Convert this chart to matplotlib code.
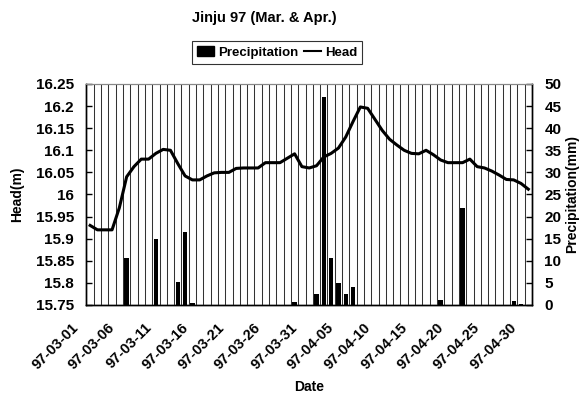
import numpy as np
import matplotlib
matplotlib.use('Agg')
import matplotlib.pyplot as plt
import matplotlib.transforms as mtransforms
from matplotlib.patches import Patch
from matplotlib.lines import Line2D

# daily categories 97-03-01 .. 97-04-30
days = ["97-03-%02d" % d for d in range(1, 32)] + ["97-04-%02d" % d for d in range(1, 31)]
tickLabels = days[::5]

head = [15.93, 15.92, 15.92, 15.92, 15.97, 16.04, 16.063, 16.08, 16.08, 16.093,
        16.102, 16.10, 16.07, 16.042, 16.033, 16.033, 16.042, 16.049, 16.05, 16.05,
        16.059, 16.06, 16.06, 16.06, 16.072, 16.072, 16.072, 16.082, 16.092, 16.063,
        16.06, 16.065, 16.085, 16.093, 16.105, 16.13, 16.165, 16.198, 16.195, 16.17,
        16.145, 16.125, 16.112, 16.10, 16.093, 16.092, 16.10, 16.09, 16.078, 16.072,
        16.072, 16.072, 16.08, 16.063, 16.06, 16.053, 16.044, 16.034, 16.033, 16.025,
        16.012]

precip = [0, 0, 0, 0, 0, 10.7, 0, 0, 0, 15,
          0, 0, 5.3, 16.5, 0.5, 0, 0, 0, 0, 0,
          0, 0, 0, 0, 0, 0, 0, 0, 0.7, 0,
          0, 2.5, 47, 10.7, 5, 2.5, 4, 0, 0, 0,
          0, 0, 0, 0, 0, 0, 0, 0, 1.2, 0,
          0, 22, 0, 0, 0, 0, 0, 0, 0.9, 0.3,
          0]

headTicks = [15.75, 15.8, 15.85, 15.9, 15.95, 16, 16.05, 16.1, 16.15, 16.2, 16.25]
headTickLabels = ["15.75", "15.8", "15.85", "15.9", "15.95", "16", "16.05", "16.1", "16.15", "16.2", "16.25"]
precipTicks = [0, 5, 10, 15, 20, 25, 30, 35, 40, 45, 50]

plt.rcParams['font.family'] = ['Liberation Sans', 'DejaVu Sans']
plt.rcParams['font.weight'] = 'bold'

fig = plt.figure(figsize=(5.82, 4.03), dpi=100)
ax = fig.add_axes([0.1486, 0.2432, 0.914 - 0.1486, 0.7916 - 0.2432])
ax2 = ax.twinx()

x = np.arange(len(days))

ax2.bar(x, precip, width=0.6, color='black', zorder=3)
ax2.set_ylim(0, 50)
ax2.set_yticks(precipTicks)
ax2.tick_params(axis='y', direction='in', length=4, width=1, pad=9, labelsize=11)
ax2.set_ylabel("Precipitation(mm)", fontsize=10, fontweight='bold', labelpad=3)

ax.set_zorder(ax2.get_zorder() + 1)
ax.patch.set_visible(False)
ax.plot(x, head, color='black', lw=2.2, zorder=4)
ax.set_ylim(15.75, 16.25)
ax.set_yticks(headTicks)
ax.set_yticklabels(headTickLabels)
ax.tick_params(axis='y', direction='in', length=4, width=1, pad=9, labelsize=11)
ax.set_ylabel("Head(m)", fontsize=10, fontweight='bold', labelpad=8)

ax.set_xlim(-0.5, len(days) - 0.5)
ax.set_xticks(x[::5])
ax.set_xticklabels(tickLabels, rotation=45, ha='right', fontsize=10.5)
ax.tick_params(axis='x', which='both', length=0, pad=11)
shift = mtransforms.ScaledTranslation(-9 / 100, 0, fig.dpi_scale_trans)
for lbl in ax.get_xticklabels():
    lbl.set_transform(lbl.get_transform() + shift)
ax.set_xlabel("Date", fontsize=10, fontweight='bold', labelpad=6)

# vertical gridlines between the day categories
ax.set_xticks(np.arange(0.5, len(days) - 1, 1), minor=True)
ax.grid(which='minor', axis='x', color='#333333', lw=0.75)

for a in (ax, ax2):
    a.spines['top'].set_color('#888888')
    a.spines['top'].set_linewidth(0.8)
    for s in ('left', 'right', 'bottom'):
        a.spines[s].set_linewidth(1.0)

fig.text(0.454, 0.955, "Jinju 97 (Mar. & Apr.)", ha='center', va='center', fontsize=10.5, fontweight='bold')

handles = [Patch(facecolor='black', edgecolor='black'), Line2D([0], [0], color='black', lw=1.5)]
leg = fig.legend(handles, ["Precipitation", "Head"], loc='center', bbox_to_anchor=(0.476, 0.870),
                 ncol=2, frameon=True, fancybox=False, edgecolor='black', fontsize=9.5,
                 handlelength=1.3, handleheight=0.8, handletextpad=0.3, columnspacing=0.4,
                 borderpad=0.4, borderaxespad=0)
leg.get_frame().set_linewidth(0.8)

fig.savefig("out.png", dpi=100)
